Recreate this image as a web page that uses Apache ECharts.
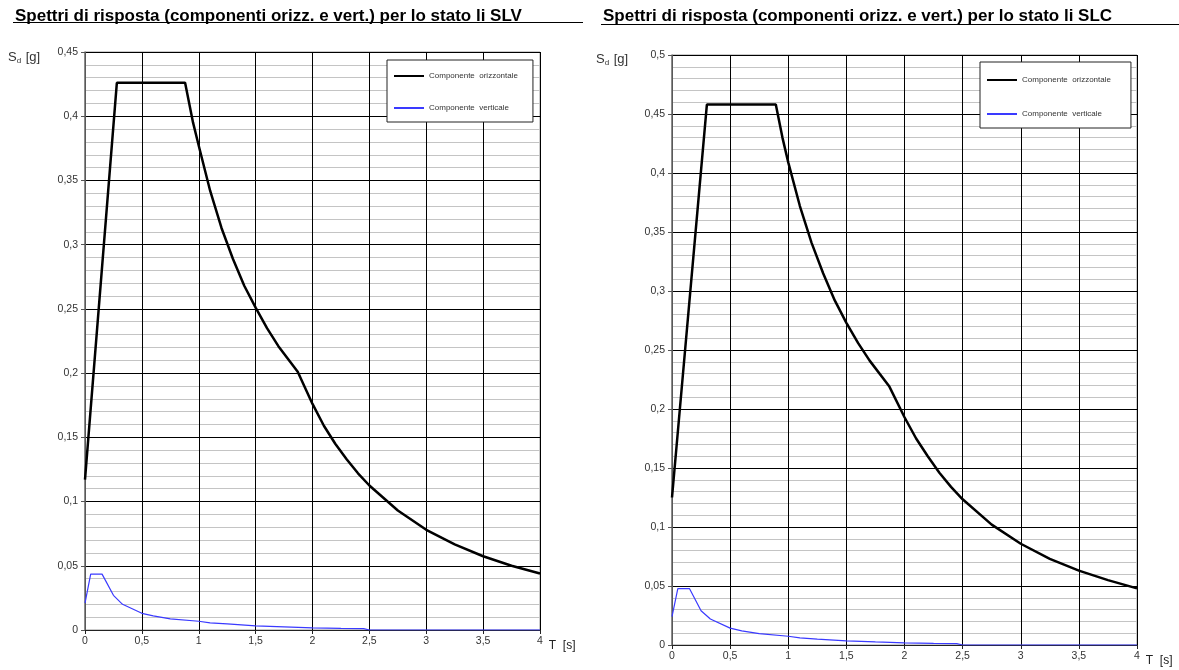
<!DOCTYPE html>
<html>
<head>
<meta charset="utf-8">
<script src="https://cdn.jsdelivr.net/npm/echarts@6/dist/echarts.min.js"></script>
<style>html,body{margin:0;padding:0;background:#fff;}#c{width:1179px;height:670px;}</style>
</head>
<body>
<div id="c"></div>
<script>
// ---- data ----
const titles = [
  'Spettri di risposta (componenti orizz. e vert.) per lo stato li SLV',
  'Spettri di risposta (componenti orizz. e vert.) per lo stato li SLC'
];
const seriesNames = ['Componente  orizzontale', 'Componente  verticale'];

// SLV horizontal
const T_SLV_H = [0, 0.28, 0.88, 0.95, 1.0, 1.1, 1.2, 1.3, 1.4, 1.5, 1.6, 1.7, 1.87, 2.0, 2.1, 2.2, 2.3, 2.4, 2.5, 2.75, 3.0, 3.25, 3.5, 3.75, 4.0];
const S_SLV_H = [0.117, 0.426, 0.426, 0.395, 0.377, 0.342, 0.313, 0.289, 0.268, 0.251, 0.235, 0.221, 0.201, 0.176, 0.159, 0.145, 0.133, 0.122, 0.1125, 0.093, 0.078, 0.0666, 0.0574, 0.050, 0.044];
// SLV vertical
const T_SLV_V = [0, 0.05, 0.15, 0.25, 0.33, 0.5, 0.6, 0.75, 1.0, 1.1, 1.25, 1.5, 1.75, 2.0, 2.25, 2.45, 2.5, 4.0];
const S_SLV_V = [0.021, 0.0435, 0.0435, 0.027, 0.020, 0.013, 0.011, 0.0087, 0.0068, 0.0056, 0.0047, 0.0032, 0.0024, 0.0016, 0.0013, 0.0011, 0, 0];
// SLC horizontal
const T_SLC_H = [0, 0.30, 0.893, 0.95, 1.0, 1.1, 1.2, 1.3, 1.4, 1.5, 1.6, 1.7, 1.87, 2.0, 2.1, 2.2, 2.3, 2.4, 2.5, 2.75, 3.0, 3.25, 3.5, 3.75, 4.0];
const S_SLC_H = [0.125, 0.458, 0.458, 0.430, 0.409, 0.372, 0.341, 0.315, 0.292, 0.273, 0.256, 0.241, 0.219, 0.193, 0.175, 0.160, 0.146, 0.134, 0.1235, 0.102, 0.0858, 0.073, 0.063, 0.055, 0.048];
// SLC vertical
const T_SLC_V = [0, 0.05, 0.15, 0.25, 0.33, 0.5, 0.6, 0.75, 1.0, 1.1, 1.25, 1.5, 1.75, 2.0, 2.25, 2.45, 2.5, 4.0];
const S_SLC_V = [0.024, 0.0478, 0.0478, 0.029, 0.022, 0.0143, 0.012, 0.0096, 0.0074, 0.006, 0.0049, 0.0035, 0.0026, 0.0018, 0.0014, 0.0012, 0, 0];

const yMax = [0.45, 0.5];
const xMax = 4, xStep = 0.5, yStep = 0.05;

// ---- chart ----
const FONT = 'Liberation Sans, Arial, sans-serif';
const fmt = v => String(+v.toFixed(3)).replace('.', ',');
const pairs = (t, s) => t.map((x, i) => [x, s[i]]);

const grids = [
  {left: 85, top: 52, width: 455, height: 578},
  {left: 672, top: 55, width: 465, height: 590}
];

function xAxis(i) {
  return {
    type: 'value', gridIndex: i, min: 0, max: xMax, interval: xStep,
    name: 'T  [s]', nameLocation: 'end', nameGap: 8,
    nameTextStyle: {fontFamily: FONT, fontSize: 12, color: '#222', verticalAlign: 'top', padding: [10, 0, 0, 0]},
    axisLine: {show: true, lineStyle: {color: '#222', width: 1}},
    axisTick: {show: true, length: 4, lineStyle: {color: '#222'}},
    axisLabel: {fontFamily: FONT, fontSize: 10.5, color: '#333', margin: 6, formatter: fmt},
    splitLine: {show: true, lineStyle: {color: '#000', width: 1}}
  };
}
function yAxis(i) {
  return {
    type: 'value', gridIndex: i, min: 0, max: yMax[i], interval: yStep,
    axisLine: {show: true, lineStyle: {color: '#777', width: 1.5}},
    axisTick: {show: true, length: 4, lineStyle: {color: '#555'}},
    axisLabel: {fontFamily: FONT, fontSize: 10.5, color: '#333', margin: 7, formatter: fmt},
    splitLine: {show: true, lineStyle: {color: '#000', width: 1}},
    minorTick: {show: false, splitNumber: 5},
    minorSplitLine: {show: true, lineStyle: {color: '#c4c4c4', width: 1}}
  };
}
function line(name, t, s, gi, color, width) {
  return {
    name: name, type: 'line', xAxisIndex: gi, yAxisIndex: gi,
    data: pairs(t, s), symbol: 'none', smooth: false, z: 5,
    lineStyle: {color: color, width: width}, itemStyle: {color: color}
  };
}
function legend(left, top, gap, pad) {
  return {
    orient: 'vertical', left: left, top: top, data: seriesNames,
    itemWidth: 30, itemHeight: 10, itemGap: gap, padding: pad,
    borderColor: '#222', borderWidth: 1, backgroundColor: '#fff',
    itemStyle: {opacity: 0},
    textStyle: {fontFamily: FONT, fontSize: 8, color: '#333'},
    selectedMode: false
  };
}
function yName(x, y) {
  return {
    type: 'text', left: x, top: y,
    style: {
      text: 'S{sub|d} [g]', fill: '#333', font: '13px ' + FONT,
      rich: {sub: {fontSize: 8, fill: '#333', verticalAlign: 'bottom', padding: [6, 1, 0, 0]}}
    }
  };
}

const option = {
  animation: false,
  backgroundColor: '#fff',
  title: [
    {text: titles[0], left: 10, top: 3, textStyle: {fontFamily: FONT, fontSize: 17, fontWeight: 'bold', color: '#000'}},
    {text: titles[1], left: 598, top: 3, textStyle: {fontFamily: FONT, fontSize: 17, fontWeight: 'bold', color: '#000'}}
  ],
  grid: grids.map(g => Object.assign({show: true, borderColor: '#999', borderWidth: 1, backgroundColor: '#fff'}, g)),
  xAxis: [xAxis(0), xAxis(1)],
  yAxis: [yAxis(0), yAxis(1)],
  legend: [
    legend(387, 60, 24, [12, 15, 10, 6]),
    legend(980, 62, 26, [14, 20, 10, 6])
  ],
  series: [
    line(seriesNames[0], T_SLV_H, S_SLV_H, 0, '#000', 2.5),
    line(seriesNames[1], T_SLV_V, S_SLV_V, 0, '#3a3aff', 1.2),
    line(seriesNames[0], T_SLC_H, S_SLC_H, 1, '#000', 2.5),
    line(seriesNames[1], T_SLC_V, S_SLC_V, 1, '#3a3aff', 1.2)
  ],
  graphic: [
    {type: 'line', shape: {x1: 13, y1: 22.5, x2: 583, y2: 22.5}, style: {stroke: '#000', lineWidth: 1}},
    {type: 'line', shape: {x1: 601, y1: 24.5, x2: 1179, y2: 24.5}, style: {stroke: '#000', lineWidth: 1}},
    yName(8, 51),
    yName(596, 53)
  ]
};

const chart = echarts.init(document.getElementById('c'), null, {renderer: 'canvas'});
chart.setOption(option);
</script>
</body>
</html>
